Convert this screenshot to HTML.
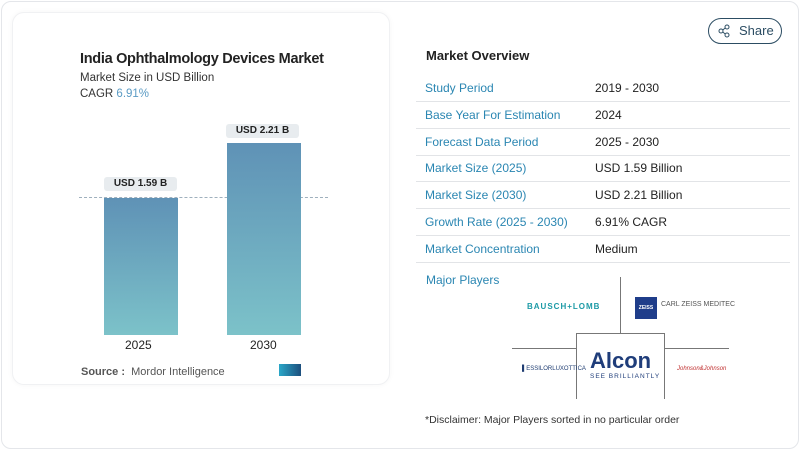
<!DOCTYPE html>
<html><head><style>
*{margin:0;padding:0;box-sizing:border-box}
body{width:800px;height:450px;background:#fff;font-family:"Liberation Sans",sans-serif;position:relative;overflow:hidden}
.abs{position:absolute}
.outer{left:1px;top:1px;width:798px;height:448px;border:1px solid #e4e6ea;border-radius:10px}
.card{left:12px;top:12px;width:378px;height:373px;border:1px solid #f0f1f3;border-radius:12px;background:#fff;box-shadow:0 0 6px rgba(0,0,0,0.04)}
.bar{background:linear-gradient(#5f92b6,#7cc2c9)}
.lbl{background:#e8ecef;border-radius:3px;font-size:10px;font-weight:bold;color:#222;text-align:center;line-height:14px}
.row{left:416px;width:374px;height:27px;border-bottom:1px solid #e2e4e7;font-size:12px;line-height:26px}
.row .k{position:absolute;left:9px;color:#2a86b2}
.row .v{position:absolute;left:179px;color:#222}
</style></head><body>
<div class="abs outer"></div>
<div class="abs card"></div>
<div class="abs" style="left:80px;top:51px;font-size:14.5px;font-weight:bold;color:#222;letter-spacing:-0.3px">India Ophthalmology Devices Market</div>
<div class="abs" style="left:80px;top:72px;font-size:11.5px;color:#333">Market Size in USD Billion</div>
<div class="abs" style="left:80px;top:88px;font-size:11.5px;color:#333">CAGR <span style="color:#5b9bc4">6.91%</span></div>
<div class="abs" style="left:79px;top:197px;width:249px;border-top:1px dashed #9fb0bd"></div>
<div class="abs bar" style="left:104px;top:198px;width:74px;height:137px"></div>
<div class="abs bar" style="left:227px;top:143px;width:74px;height:192px"></div>
<div class="abs lbl" style="left:104px;top:177px;width:73px">USD 1.59 B</div>
<div class="abs lbl" style="left:226px;top:124px;width:73px">USD 2.21 B</div>
<div class="abs" style="left:125px;top:338px;font-size:12px;color:#222">2025</div>
<div class="abs" style="left:250px;top:338px;font-size:12px;color:#222">2030</div>
<div class="abs" style="left:81px;top:366px;font-size:11px;color:#555"><b style="color:#555">Source :</b>&nbsp; Mordor Intelligence</div>
<div class="abs" style="left:279px;top:364px;width:22px;height:12px;background:linear-gradient(90deg,#2aa7c8,#1d4f7d)"></div>
<div class="abs" style="left:708px;top:18px;width:74px;height:26px;border:1px solid #2c4d63;border-radius:13px;font-size:13px;color:#2c4d63;line-height:24px;padding-left:30px">Share</div>
<svg class="abs" style="left:718px;top:24px" width="12" height="14" viewBox="0 0 12 14"><g fill="none" stroke="#2c4d63" stroke-width="1"><circle cx="9" cy="3" r="2"/><circle cx="3" cy="7" r="2"/><circle cx="9" cy="11" r="2"/><path d="M4.7 6 L7.3 4 M4.7 8 L7.3 10"/></g></svg>
<div class="abs" style="left:426px;top:48px;font-size:13px;font-weight:bold;color:#222">Market Overview</div>
<div class="abs row" style="top:75px"><span class="k">Study Period</span><span class="v">2019 - 2030</span></div>
<div class="abs row" style="top:102px"><span class="k">Base Year For Estimation</span><span class="v">2024</span></div>
<div class="abs row" style="top:129px"><span class="k">Forecast Data Period</span><span class="v">2025 - 2030</span></div>
<div class="abs row" style="top:155px"><span class="k">Market Size (2025)</span><span class="v">USD 1.59 Billion</span></div>
<div class="abs row" style="top:182px"><span class="k">Market Size (2030)</span><span class="v">USD 2.21 Billion</span></div>
<div class="abs row" style="top:209px"><span class="k">Growth Rate (2025 - 2030)</span><span class="v">6.91% CAGR</span></div>
<div class="abs row" style="top:236px"><span class="k">Market Concentration</span><span class="v">Medium</span></div>
<div class="abs" style="left:426px;top:273px;font-size:12px;color:#2a86b2">Major Players</div>
<div class="abs" style="left:620px;top:277px;width:1px;height:57px;background:#777"></div>
<div class="abs" style="left:576px;top:333px;width:89px;height:66px;border:1px solid #777;border-bottom:none"></div>
<div class="abs" style="left:512px;top:348px;width:64px;height:1px;background:#777"></div>
<div class="abs" style="left:665px;top:348px;width:64px;height:1px;background:#777"></div>
<div class="abs" style="left:527px;top:302px;font-size:8px;font-weight:bold;color:#1c9aa6;letter-spacing:1px">BAUSCH+LOMB</div>
<div class="abs" style="left:635px;top:297px;width:22px;height:22px;background:#1f3d8a;color:#fff;font-size:5px;text-align:center;line-height:22px;font-weight:bold">ZEISS</div>
<div class="abs" style="left:661px;top:301px;font-size:7px;color:#555">CARL ZEISS MEDITEC</div>
<div class="abs" style="left:522px;top:366px;font-size:6px;color:#1f3d72">▌ESSILORLUXOTTICA</div>
<div class="abs" style="left:590px;top:348px;font-size:22px;font-weight:bold;color:#1f3d7a">Alcon</div>
<div class="abs" style="left:590px;top:373px;font-size:6.5px;color:#1f3d7a;letter-spacing:1px">SEE BRILLIANTLY</div>
<div class="abs" style="left:677px;top:366px;font-size:6px;color:#c03030;font-style:italic">Johnson&amp;Johnson</div>
<div class="abs" style="left:425px;top:414px;font-size:10.5px;color:#333">*Disclaimer: Major Players sorted in no particular order</div>
</body></html>
